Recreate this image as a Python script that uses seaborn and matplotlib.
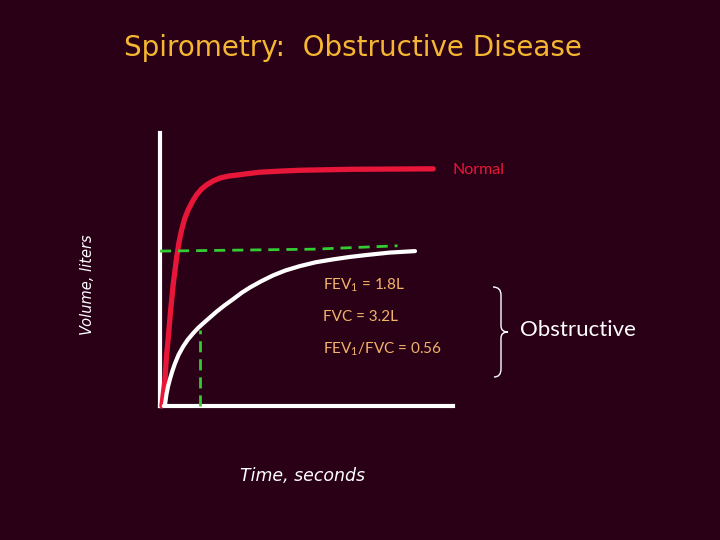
import numpy as np
import pandas as pd
import matplotlib
matplotlib.use("Agg")
import matplotlib.pyplot as plt
from matplotlib.path import Path
from matplotlib.patches import PathPatch
import seaborn as sns

# ── Data ─────────────────────────────────────────────────────────────────────

# normal curve: time (s) vs volume (L)
normal_t = [0.0, 0.08, 0.12, 0.17, 0.23, 0.30, 0.39, 0.45, 0.52, 0.60,
            0.69, 0.80, 0.91, 1.04, 1.18, 1.35, 1.53, 1.75, 1.97, 2.25,
            2.58, 3.05, 3.63, 4.95, 7.14]
normal_v = [0.0, 0.54, 1.02, 1.43, 1.98, 2.53, 3.08, 3.38, 3.64, 3.87,
            4.05, 4.22, 4.36, 4.48, 4.57, 4.65, 4.71, 4.75, 4.77, 4.80,
            4.83, 4.85, 4.87, 4.89, 4.90]

# obstructive curve
obstr_t = [0.05, 0.08, 0.12, 0.16, 0.21, 0.27, 0.34, 0.44, 0.56, 0.68,
           0.82, 0.95, 1.09, 1.25, 1.44, 1.65, 1.88, 2.10, 2.32, 2.62,
           2.93, 3.25, 3.63, 4.05, 4.51, 4.95, 5.39, 6.00, 6.66]
obstr_v = [0.0, 0.02, 0.24, 0.40, 0.55, 0.71, 0.87, 1.06, 1.23, 1.37,
           1.50, 1.61, 1.71, 1.82, 1.95, 2.08, 2.21, 2.34, 2.45, 2.58,
           2.70, 2.80, 2.89, 2.97, 3.03, 3.08, 3.12, 3.17, 3.20]

# green guide lines: FVC level and FEV1 at t = 1 s
fvc_t = [-0.05, 4.0, 6.2]
fvc_v = [3.20, 3.24, 3.31]
fev1_t = [1.0, 1.0]
fev1_v = [0.0, 1.57]

info_lines = ["FEV$_1$ = 1.8L", "FVC = 3.2L", "FEV$_1$/FVC = 0.56"]

# ── Style ────────────────────────────────────────────────────────────────────

BG = "#2a0016"
RED = "#e8173a"
GREEN = "#33cc33"
GOLD = "#f5b731"
PEACH = "#f2b46a"

sns.set_theme(style="white")
plt.rcParams.update({
    "font.family": ["Lato", "DejaVu Sans"],
    "mathtext.fontset": "custom",
    "mathtext.rm": "Lato",
    "mathtext.it": "Lato:italic",
})

W, H = 720, 540
fig = plt.figure(figsize=(W / 100, H / 100), dpi=100, facecolor=BG)


def px(x, y):
    return x / W, 1 - y / H


ax = fig.add_axes([160 / W, (H - 406) / H, 293 / W, 273 / H], facecolor=BG)

df_n = pd.DataFrame({"t": normal_t, "v": normal_v})
df_o = pd.DataFrame({"t": obstr_t, "v": obstr_v})

sns.lineplot(data=df_n, x="t", y="v", sort=False, color=RED, lw=3.8,
             ax=ax, clip_on=False, zorder=3, solid_joinstyle="round")
sns.lineplot(data=df_o, x="t", y="v", sort=False, color="white", lw=3.0,
             ax=ax, clip_on=False, zorder=3, solid_joinstyle="round")
ax.plot(fvc_t, fvc_v, color=GREEN, lw=2.0, ls=(0, (4, 2.5)),
        clip_on=False, zorder=4)
ax.plot(fev1_t, fev1_v, color=GREEN, lw=2.0, ls=(0, (4, 2.5)),
        clip_on=False, zorder=4)

ax.set_xlim(-0.05, 7.66)
ax.set_ylim(0, 5.64)
ax.set_xticks([])
ax.set_yticks([])
for side in ("top", "right"):
    ax.spines[side].set_visible(False)
for side in ("left", "bottom"):
    ax.spines[side].set_color("white")
    ax.spines[side].set_linewidth(3.0)

ax.set_xlabel("Time, seconds", color="white", fontsize=12.5, style="italic",
              family=["DejaVu Sans"])
ax.xaxis.set_label_coords((303 - 160) / 293, (406 - 476) / 273)
ax.xaxis.label.set_va("center")
ax.set_ylabel("Volume, liters", color="white", fontsize=10.5, style="italic",
              family=["DejaVu Sans"])
ax.yaxis.set_label_coords((88 - 160) / 293, (406 - 285) / 273)
ax.yaxis.label.set_va("center")

# ── Texts ────────────────────────────────────────────────────────────────────

fig.text(*px(353, 48), "Spirometry:  Obstructive Disease", color=GOLD,
         fontsize=20, ha="center", va="center", family=["DejaVu Sans"])
fig.text(*px(452, 170), "Normal", color=RED, fontsize=11.5,
         ha="left", va="center")
for line, y in zip(info_lines, [285, 317, 349]):
    fig.text(*px(323, y), line, color=PEACH, fontsize=11,
             ha="left", va="center")
fig.text(*px(520, 330), "Obstructive", color="white", fontsize=16,
         ha="left", va="center")

# curly brace
brace = [(493, 287), (501, 287), (501, 295), (501, 326), (501, 332),
         (508, 332), (501, 332), (501, 338), (501, 369), (501, 377),
         (494, 377)]
codes = [Path.MOVETO, Path.CURVE3, Path.CURVE3, Path.LINETO, Path.CURVE3,
         Path.CURVE3, Path.CURVE3, Path.CURVE3, Path.LINETO, Path.CURVE3,
         Path.CURVE3]
verts = [px(x, y) for x, y in brace]
fig.add_artist(PathPatch(Path(verts, codes), transform=fig.transFigure,
                         fill=False, edgecolor="white", lw=1.0))

fig.savefig("out.png", dpi=100, facecolor=BG)
